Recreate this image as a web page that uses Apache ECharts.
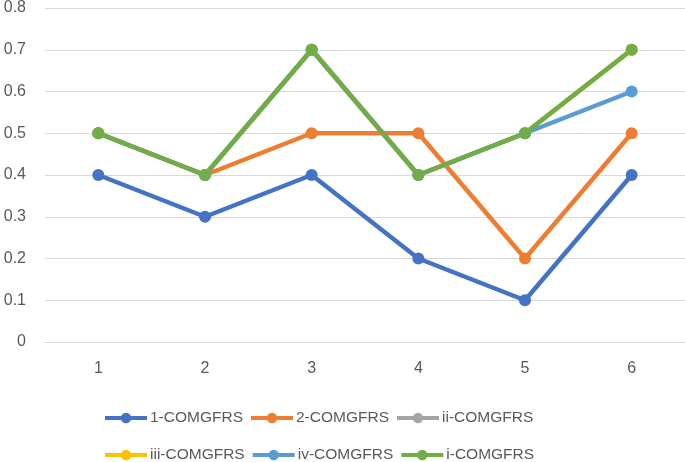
<!DOCTYPE html>
<html><head><meta charset="utf-8">
<script src="https://cdn.jsdelivr.net/npm/echarts@6/dist/echarts.min.js"></script>
<style>html,body{margin:0;padding:0;background:#fff}#c{width:685px;height:462px}</style>
</head><body><div id="c"></div>
<script>
const categories = ['1','2','3','4','5','6'];
const s1 = [0.4, 0.3, 0.4, 0.2, 0.1, 0.4];
const s2 = [0.5, 0.4, 0.5, 0.5, 0.2, 0.5];
const sii = [0.5, 0.4, 0.7, 0.4, 0.5, 0.7];
const siii = [0.5, 0.4, 0.7, 0.4, 0.5, 0.7];
const siv = [0.5, 0.4, 0.7, 0.4, 0.5, 0.6];
const si = [0.5, 0.4, 0.7, 0.4, 0.5, 0.7];
const names = ['1-COMGFRS','2-COMGFRS','ii-COMGFRS','iii-COMGFRS','iv-COMGFRS','i-COMGFRS'];
const colors = ['#4472C4','#ED7D31','#A5A5A5','#FFC000','#5B9BD5','#70AD47'];
const values = [s1, s2, sii, siii, siv, si];
const font = 'Liberation Sans, Arial, sans-serif';
const chart = echarts.init(document.getElementById('c'));
const legendCommon = {
  left: 98, itemWidth: 42, itemHeight: 13, itemGap: 6,
  lineStyle: {width: 4},
  textStyle: {fontFamily: font, fontSize: 15.5, color: '#595959', padding: [0,0,0,-2]}
};
chart.setOption({
  animation: false,
  color: colors,
  grid: {left: 45, right: 0, top: 7, bottom: 120},
  legend: [
    Object.assign({top: 405, data: names.slice(0,3)}, legendCommon),
    Object.assign({top: 442, data: names.slice(3)}, legendCommon)
  ],
  xAxis: {
    type: 'category', data: categories, boundaryGap: true,
    axisLine: {lineStyle: {color: '#D9D9D9', width: 1}},
    axisTick: {show: false},
    axisLabel: {fontFamily: font, fontSize: 16, color: '#595959', margin: 19}
  },
  yAxis: {
    type: 'value', min: 0, max: 0.8, interval: 0.1,
    axisLine: {show: false}, axisTick: {show: false},
    splitLine: {lineStyle: {color: '#D9D9D9', width: 1}},
    axisLabel: {fontFamily: font, fontSize: 16, color: '#595959', margin: 19,
      formatter: v => (Math.round(v*10)/10).toString()}
  },
  series: names.map((n, i) => ({
    name: n, type: 'line', data: values[i],
    symbol: 'circle', symbolSize: 12,
    lineStyle: {width: 4.5, color: colors[i]},
    itemStyle: {color: colors[i]}
  }))
});
</script></body></html>
